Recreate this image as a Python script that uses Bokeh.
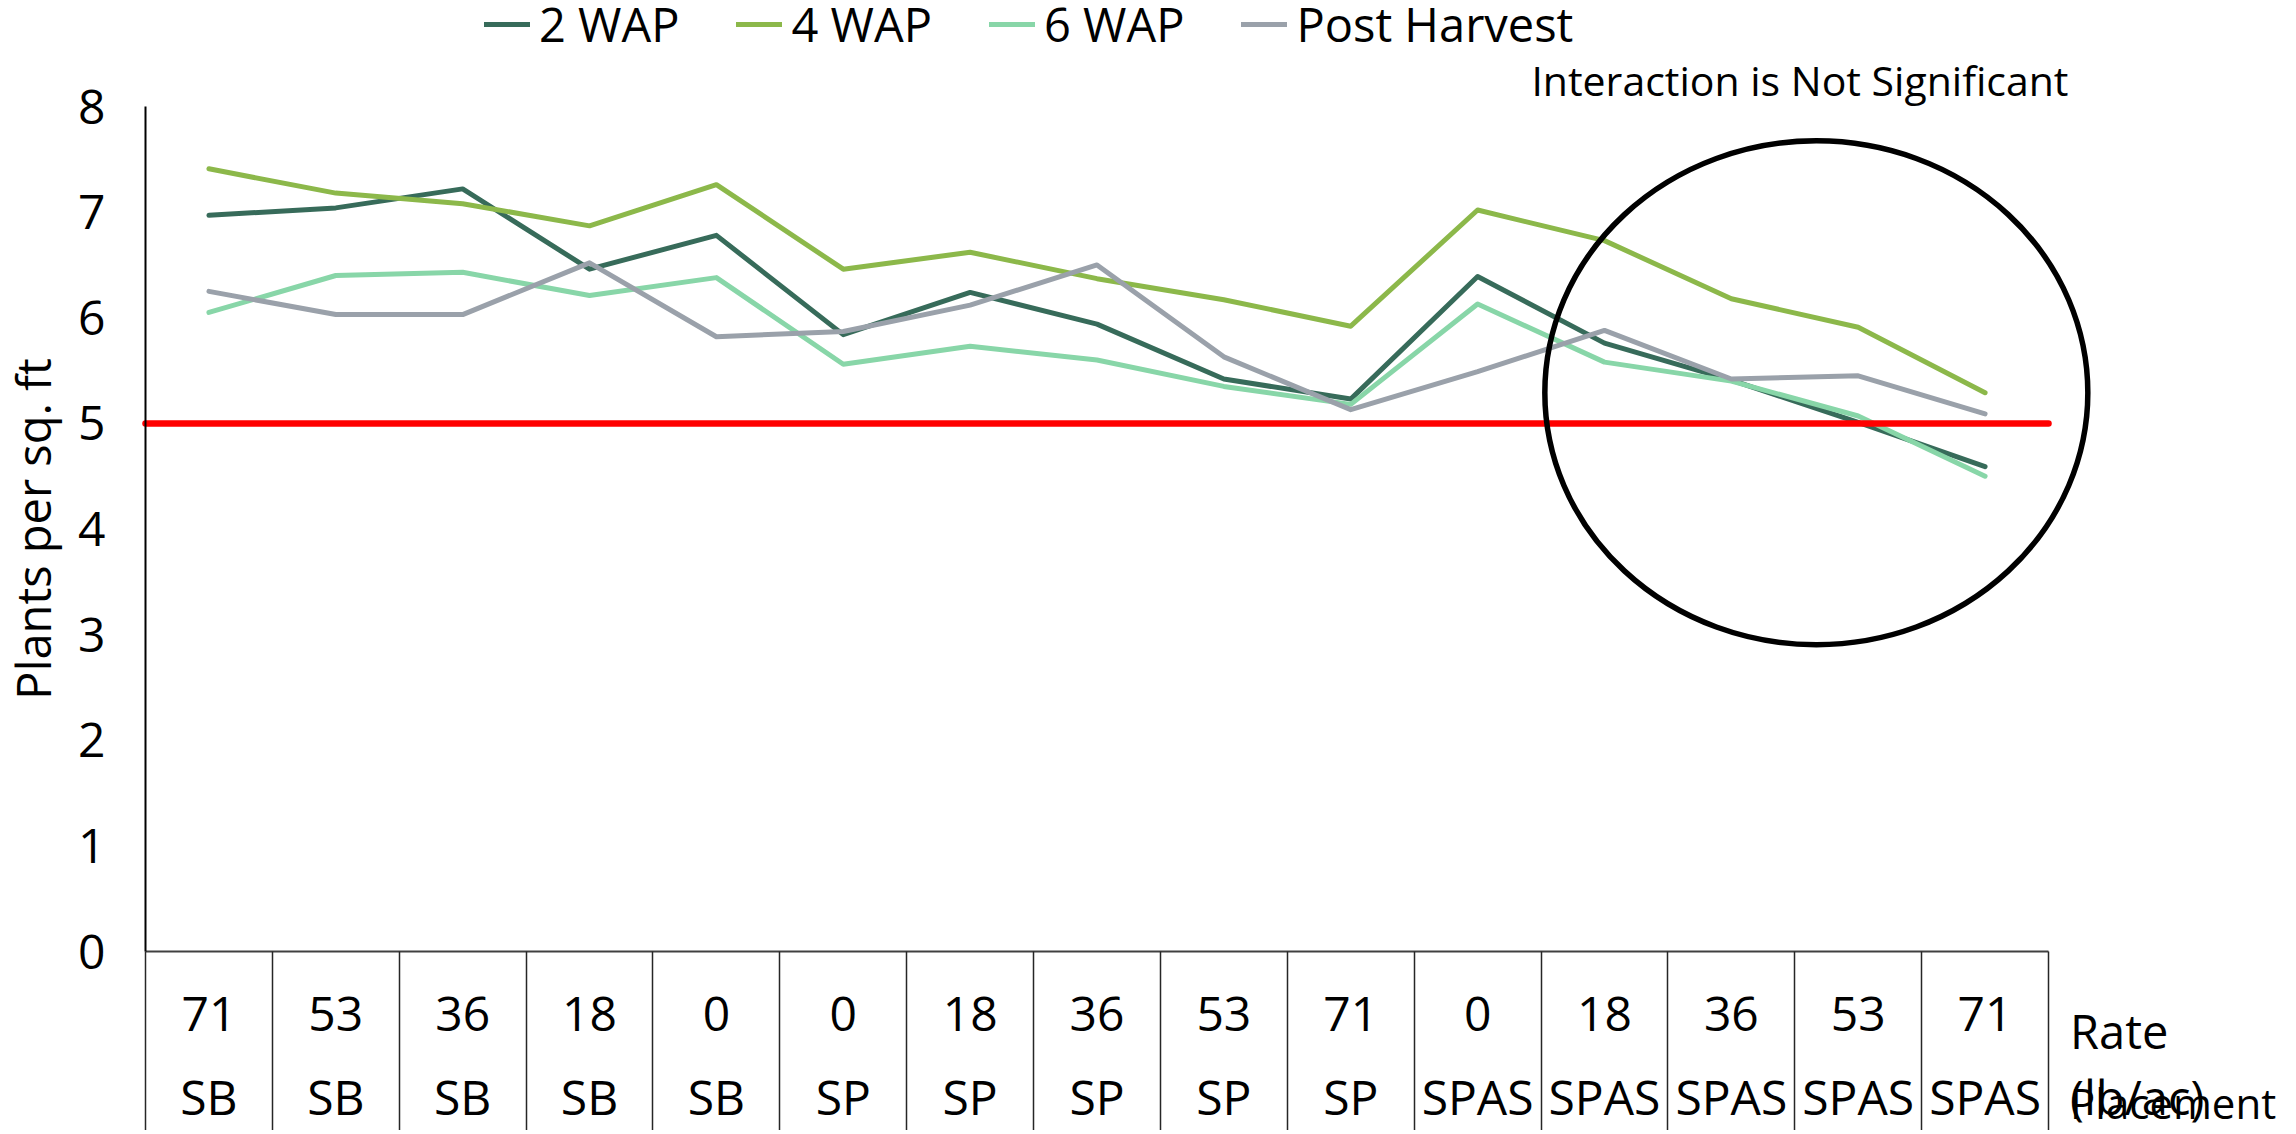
from bokeh.plotting import figure
from bokeh.models import (LinearAxis, FixedTicker, Range1d, Label, Legend,
                          LegendItem, ColumnDataSource, CustomJSTickFormatter)
from bokeh.embed import file_html
from bokeh.resources import INLINE

# ---------------- data ----------------
rates = ["71", "53", "36", "18", "0", "0", "18", "36", "53", "71",
         "0", "18", "36", "53", "71"]
placements = ["SB"] * 5 + ["SP"] * 5 + ["SPAS"] * 5
series_names = ["2 WAP", "4 WAP", "6 WAP", "Post Harvest"]
wap2 = [6.97, 7.04, 7.22, 6.46, 6.78, 5.84, 6.24, 5.94, 5.42, 5.23, 6.39, 5.76, 5.41, 5.01, 4.59]
wap4 = [7.41, 7.18, 7.08, 6.87, 7.26, 6.46, 6.62, 6.37, 6.17, 5.92, 7.02, 6.73, 6.18, 5.91, 5.29]
wap6 = [6.05, 6.40, 6.43, 6.21, 6.38, 5.56, 5.73, 5.60, 5.35, 5.18, 6.13, 5.58, 5.40, 5.07, 4.50]
post = [6.25, 6.03, 6.03, 6.52, 5.82, 5.87, 6.12, 6.50, 5.63, 5.13, 5.49, 5.88, 5.42, 5.45, 5.09]
y_ticks = [0, 1, 2, 3, 4, 5, 6, 7, 8]
threshold = 5.0
annotation_text = "Interaction is Not Significant"

# ---------------- styling ----------------
FONT = "Open Sans"
colors = ["#376B5A", "#8CB84A", "#88D6A8", "#9AA1AA"]

W, H = 2290, 1130
n = len(rates)
x_px = 1903 / n          # pixels per category
y_px = 845 / 8           # pixels per unit
x0 = 145                 # screen px of the left category boundary
y0 = 951                 # screen px (from top) of y = 0

p = figure(width=W, height=H, output_backend="svg", toolbar_location=None,
           x_range=Range1d(-0.5 - x0 / x_px, -0.5 + (W - x0) / x_px),
           y_range=Range1d(-(H - y0) / y_px, y0 / y_px),
           x_axis_location=None, y_axis_location=None, min_border=0,
           title=None)
p.outline_line_color = None
p.background_fill_color = "white"
p.border_fill_color = "white"
p.grid.visible = False

xs = list(range(n))
src = ColumnDataSource(dict(x=xs, wap2=wap2, wap4=wap4, wap6=wap6, post=post))
line_renderers = []
for col, color in zip(["wap2", "wap4", "wap6", "post"], colors):
    r = p.line("x", col, source=src, line_color=color, line_width=5,
               line_cap="round", line_join="round")
    line_renderers.append(r)

# threshold line
p.line(x=[-0.5, n - 0.5], y=[threshold, threshold], line_color="#FF0000",
       line_width=6.5, line_cap="round")

# annotation ellipse
p.ellipse(x=[12.67], y=[5.29], width=4.28, height=4.77, fill_color=None,
          line_color="black", line_width=5.5)

# ---------------- axes ----------------
yax = LinearAxis(fixed_location=-0.5, bounds=(0, 8),
                 ticker=FixedTicker(ticks=y_ticks), axis_label="Plants per sq. ft")
yax.axis_line_color = "black"
yax.axis_line_width = 2
yax.major_tick_line_color = None
yax.minor_tick_line_color = None
yax.major_label_text_font = FONT
yax.major_label_text_font_size = "48px"
yax.major_label_text_color = "black"
yax.major_label_standoff = 34
yax.axis_label_text_font = FONT
yax.axis_label_text_font_size = "47px"
yax.axis_label_text_font_style = "normal"
yax.axis_label_text_color = "black"
yax.axis_label_standoff = 10
p.add_layout(yax, "left")

# category separators + axis line
bounds_ticks = [i - 0.5 for i in range(n + 1)]
xsep = LinearAxis(fixed_location=0, bounds=(-0.5, n - 0.5),
                  ticker=FixedTicker(ticks=bounds_ticks, minor_ticks=[]),
                  formatter=CustomJSTickFormatter(code="return ''"))
xsep.major_tick_in = 0
xsep.major_tick_out = 190
xsep.major_tick_line_color = "#262626"
xsep.major_tick_line_width = 1.5
xsep.minor_tick_line_color = None
xsep.axis_line_color = "#404040"
xsep.axis_line_width = 2
p.add_layout(xsep, "below")

def label_axis(labels, standoff):
    ax = LinearAxis(fixed_location=0, bounds=(-0.5, n - 0.5),
                    ticker=FixedTicker(ticks=xs, minor_ticks=[]))
    ax.major_label_overrides = {i: s for i, s in enumerate(labels)}
    ax.major_tick_line_color = None
    ax.minor_tick_line_color = None
    ax.axis_line_color = None
    ax.major_label_text_font = FONT
    ax.major_label_text_font_size = "48px"
    ax.major_label_text_color = "black"
    ax.major_label_standoff = standoff
    p.add_layout(ax, "below")
    return ax

label_axis(rates, 39)
label_axis(placements, 106)

# ---------------- texts ----------------
def add_label(x, y, text, size):
    p.add_layout(Label(x=x, y=y, text=text, text_font=FONT, text_font_size=size,
                       text_color="black", text_baseline="alphabetic",
                       text_align="left"))

add_label(10.424, 8.25, annotation_text, "41px")
add_label(14.67, -0.75, "Rate", "47px")
add_label(14.67, -1.38, "(lb/ac)", "47px")
add_label(14.67, -1.43, "Placement", "42px")

# ---------------- legend ----------------
items = [LegendItem(label=name, renderers=[r])
         for name, r in zip(series_names, line_renderers)]
legend = Legend(items=items, location=(484, H - 56), orientation="horizontal",
                glyph_width=46, label_standoff=9, spacing=57, padding=0, margin=0,
                border_line_color=None, background_fill_alpha=0,
                label_text_font=FONT, label_text_font_size="47px",
                label_text_color="black")
p.add_layout(legend)

open("out.html", "w").write(file_html(p, INLINE))
